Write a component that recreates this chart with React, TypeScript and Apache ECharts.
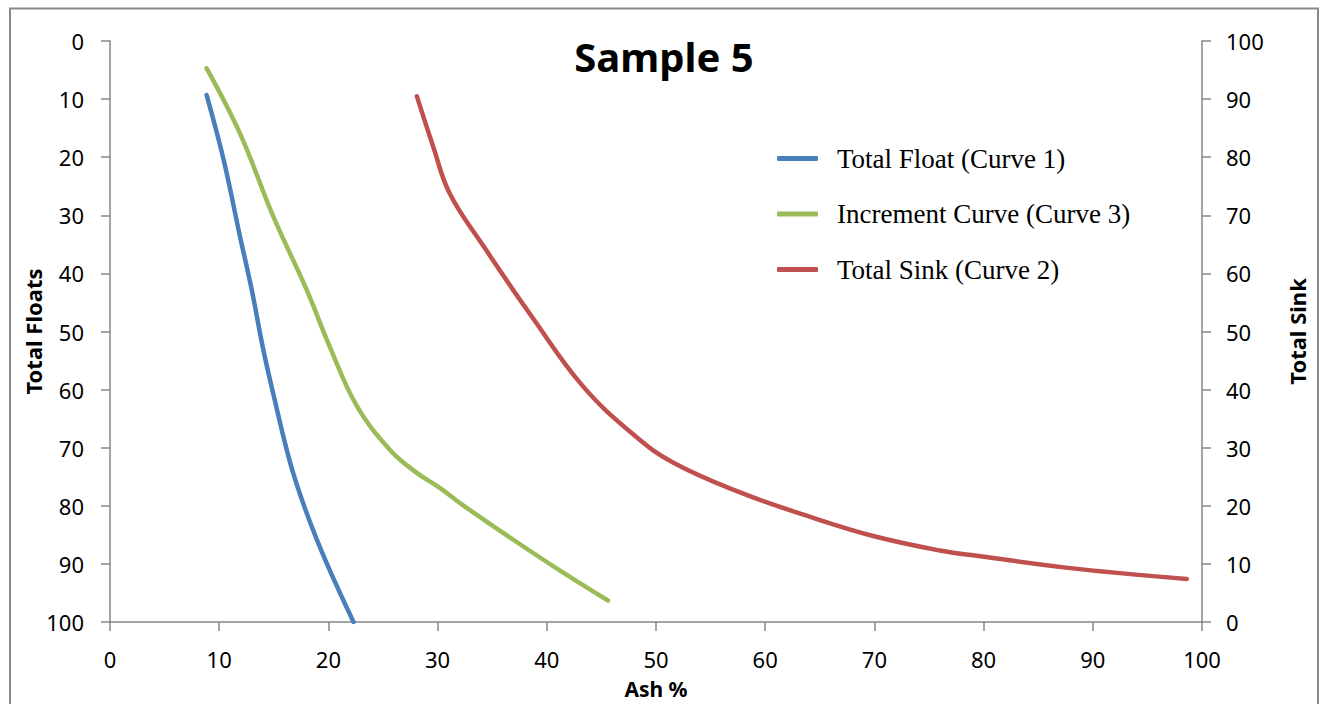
import React, { useEffect, useRef } from "react";
import * as echarts from "echarts";

const xTicks = [0, 10, 20, 30, 40, 50, 60, 70, 80, 90, 100];
const seriesNames = ["Total Float (Curve 1)", "Increment Curve (Curve 3)", "Total Sink (Curve 2)"];

// Total Float (left axis, inverted): [ash %, total floats]
const totalFloat: [number, number][] = [
  [8.85, 9.3], [10.4, 20.4], [11.9, 33.6], [13.0, 43], [14.0, 52.8], [15.0, 61.1],
  [16.5, 72.6], [18.0, 81.2], [19.8, 89.7], [22.3, 100],
];
// Increment curve (left axis, inverted)
const incrementCurve: [number, number][] = [
  [8.85, 4.7], [11.9, 15.9], [14.95, 30.2], [18.0, 42.8], [20.1, 52.5], [22.6, 62.8],
  [25.6, 70.3], [28.0, 74.2], [30.2, 76.9], [32.4, 80], [36.9, 85.8], [41.5, 91.5], [45.6, 96.3],
];
// Total Sink (right axis): [ash %, total sink]
const totalSink: [number, number][] = [
  [28.1, 90.5], [29.6, 81.8], [31.1, 73.8], [34.2, 64.7], [38.8, 52.1], [43.3, 40.6],
  [47.9, 32.3], [51.6, 27.4], [57.7, 22.3], [63.8, 18.3], [69.9, 14.8], [76.0, 12.3],
  [79.7, 11.3], [88.8, 9.1], [98.6, 7.4],
];

const colors = ["#4a7ebb", "#9bbb59", "#c0504d"];

export default function App() {
  const ref = useRef<HTMLDivElement>(null);
  useEffect(() => {
    if (!ref.current) return;
    const chart = echarts.init(ref.current, null, { renderer: "svg" });
    const axisLine = { show: true, onZero: false, lineStyle: { color: "#868686", width: 1.5 } };
    const axisTick = { show: true, length: 9, lineStyle: { color: "#868686", width: 1.5 } };
    const axisLabelBase = { color: "#000", fontFamily: "Noto Sans", fontSize: 22, lineHeight: 22 };
    const nameStyle = {
      color: "#000",
      fontFamily: "Noto Sans",
      fontSize: 22,
      lineHeight: 22,
      fontWeight: "bold" as const,
    };
    const lineSeries = (name: string, data: [number, number][], idx: number, yAxisIndex: number) => ({
      name,
      type: "line",
      data,
      smooth: 0.4,
      showSymbol: false,
      yAxisIndex,
      lineStyle: { width: 4.5, color: colors[idx], cap: "round" },
      itemStyle: { color: colors[idx] },
    });
    chart.setOption({
      animation: false,
      backgroundColor: "#fff",
      color: colors,
      title: {
        text: "Sample 5",
        left: 659,
        textAlign: "center",
        top: 31,
        textStyle: { fontFamily: "Noto Sans", fontSize: 40, fontWeight: "bold", color: "#000" },
      },
      graphic: [
        {
          type: "rect",
          shape: { x: 10, y: 8.5, width: 1308, height: 720 },
          style: { fill: "none", stroke: "#8a8a8a", lineWidth: 2 },
          silent: true,
        },
      ],
      legend: {
        orient: "vertical",
        left: 777,
        top: 145,
        padding: 0,
        itemWidth: 41,
        itemHeight: 5,
        itemGap: 28.5,
        icon: "roundRect",
        data: seriesNames,
        textStyle: {
          fontFamily: "Liberation Serif",
          fontSize: 27,
          color: "#000",
          padding: [0, 0, 0, 14],
        },
      },
      grid: { left: 110, width: 1092, top: 41, height: 582, containLabel: false },
      xAxis: {
        type: "value",
        min: 0,
        max: 100,
        interval: 10,
        name: "Ash %",
        nameLocation: "middle",
        nameGap: 56,
        nameMoveOverlap: false,
        nameTextStyle: { ...nameStyle, fontSize: 21, lineHeight: 21 },
        axisLine,
        axisTick,
        splitLine: { show: false },
        axisLabel: { ...axisLabelBase, margin: 26, formatter: (v: number) => (xTicks.includes(v) ? String(v) : "") },
      },
      yAxis: [
        {
          type: "value",
          min: 0,
          max: 100,
          interval: 10,
          inverse: true,
          name: "Total Floats",
          nameLocation: "middle",
          nameGap: 66,
          nameMoveOverlap: false,
          nameRotate: 90,
          nameTextStyle: nameStyle,
          axisLine,
          axisTick,
          splitLine: { show: false },
          axisLabel: { ...axisLabelBase, margin: 26 },
        },
        {
          type: "value",
          min: 0,
          max: 100,
          interval: 10,
          position: "right",
          name: "Total Sink",
          nameLocation: "middle",
          nameGap: 84,
          nameMoveOverlap: false,
          nameRotate: 90,
          nameTextStyle: nameStyle,
          axisLine,
          axisTick,
          splitLine: { show: false },
          axisLabel: { ...axisLabelBase, margin: 24 },
        },
      ],
      series: [
        lineSeries(seriesNames[0], totalFloat, 0, 0),
        lineSeries(seriesNames[1], incrementCurve, 1, 0),
        lineSeries(seriesNames[2], totalSink, 2, 1),
      ],
    });
    return () => chart.dispose();
  }, []);
  return (
    <div
      ref={ref}
      style={{ position: "absolute", left: 0, top: 0, width: 1321, height: 704 }}
    />
  );
}
